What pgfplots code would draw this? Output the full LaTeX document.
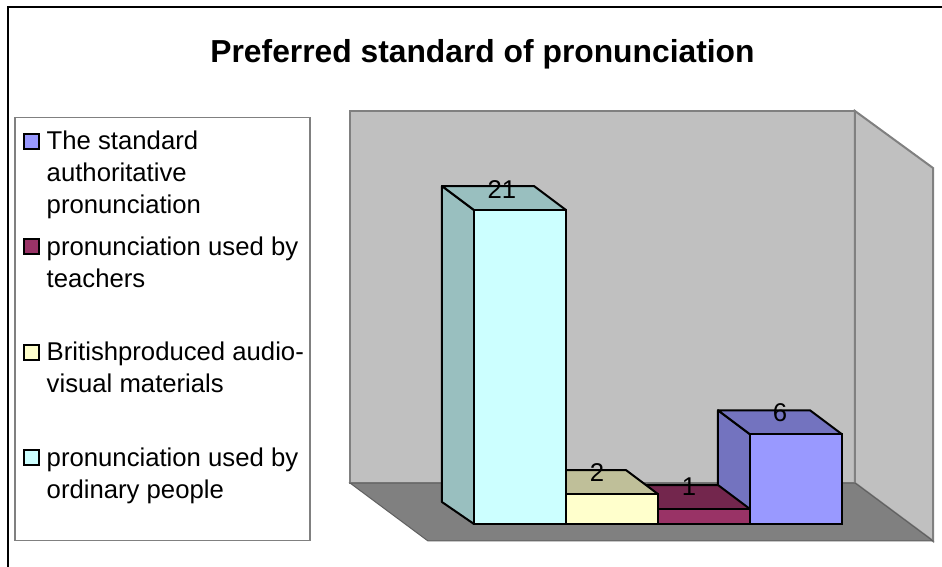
\documentclass[border=0pt]{standalone}
\usepackage{pgfplots}
\pgfplotsset{compat=1.18}
\usepackage{fontspec}
\setmainfont{Liberation Sans}
\definecolor{wall}{HTML}{C0C0C0}
\definecolor{floorc}{HTML}{808080}
\definecolor{edgec}{HTML}{808080}
\definecolor{blueF}{HTML}{9999FF}
\definecolor{blueD}{HTML}{7373BF}
\definecolor{marF}{HTML}{993366}
\definecolor{marD}{HTML}{73264D}
\definecolor{yelF}{HTML}{FFFFCC}
\definecolor{yelD}{HTML}{BFBF99}
\definecolor{cyaF}{HTML}{CCFFFF}
\definecolor{cyaD}{HTML}{99BFBF}
\newcommand{\legtext}[1]{\parbox[t]{254pt}{\fontsize{25.7}{32}\selectfont #1}}
\begin{document}
\begin{tikzpicture}[x=1pt,y=1pt]
\useasboundingbox (0,0) rectangle (942,567);
\fill[white] (0,0) rectangle (942,567);
\begin{axis}[
  at={(0pt,0pt)}, anchor=south west,
  scale only axis, width=942pt, height=567pt,
  xmin=-5.6522, xmax=4.5870, ymin=-2.8763, ymax=35.0502,
  hide axis, clip=false,
  /pgf/number format/assume math mode=true,
  legend cell align=left,
  legend style={
    at={(0.01486,0.79365)}, anchor=north west,
    draw=edgec, line width=1.5pt, fill=white,
    inner xsep=8pt, inner ysep=0.5pt,
    row sep=0pt, column sep=6pt,
    nodes={inner sep=1pt, text height=30.5pt, text depth=73pt, line width=0pt},
  },
  swatch/.style={ybar, bar width=92pt, bar shift=0pt, draw=black, line width=2pt,
    legend image code/.code={\draw[##1,line width=2pt] (0pt,22.25pt) rectangle (15pt,37.25pt);}},
  poly/.style={draw=black, line width=2pt, line join=round, forget plot},
]
% room
\addplot[forget plot, fill=wall, draw=edgec, line width=2pt] coordinates {(-1.848,27.625)(3.641,27.625)(3.641,2.742)(-1.848,2.742)} --cycle;
\addplot[forget plot, fill=wall, draw=edgec, line width=2pt] coordinates {(3.641,27.625)(4.489,23.813)(4.489,-1.137)(3.641,2.742)} --cycle;
\addplot[forget plot, fill=floorc, draw=floorc!75!black, line width=1pt] coordinates {(-1.848,2.742)(3.641,2.742)(4.489,-1.137)(-1.0,-1.137)} --cycle;
% bar 4
\addplot[poly, fill=blueD] coordinates {(2.5,6)(2.5,0)(2.152,1.47)(2.152,7.605)} --cycle;
\addplot[poly, fill=blueD] coordinates {(2.5,6)(3.5,6)(3.152,7.605)(2.152,7.605)} --cycle;
\addplot[swatch, fill=blueF] coordinates {(3,6)};
\addlegendentry{\legtext{The standard\\authoritative\\pronunciation}}
% bar 3
\addplot[poly, fill=marD] coordinates {(1.5,1)(1.5,0)(1.152,1.47)(1.152,2.605)} --cycle;
\addplot[poly, fill=marD] coordinates {(1.5,1)(2.5,1)(2.152,2.605)(1.152,2.605)} --cycle;
\addplot[swatch, fill=marF] coordinates {(2,1)};
\addlegendentry{\legtext{pronunciation used by\\teachers}}
% bar 2
\addplot[poly, fill=yelD] coordinates {(0.5,2)(0.5,0)(0.152,1.47)(0.152,3.605)} --cycle;
\addplot[poly, fill=yelD] coordinates {(0.5,2)(1.5,2)(1.152,3.605)(0.152,3.605)} --cycle;
\addplot[swatch, fill=yelF] coordinates {(1,2)};
\addlegendentry{\legtext{\mbox{Britishproduced audio-}\\visual materials}}
% bar 1
\addplot[poly, fill=cyaD] coordinates {(-0.5,21)(-0.5,0)(-0.848,1.47)(-0.848,22.605)} --cycle;
\addplot[poly, fill=cyaD] coordinates {(-0.5,21)(0.5,21)(0.152,22.605)(-0.848,22.605)} --cycle;
\addplot[swatch, fill=cyaF] coordinates {(0,21)};
\addlegendentry{\legtext{pronunciation used by\\ordinary people}}
% value labels
\addplot[forget plot, draw=none, point meta=explicit,
  nodes near coords={\pgfmathprintnumber{\pgfplotspointmeta}},
  nodes near coords style={anchor=center, inner sep=0pt, font=\fontsize{25.7}{28}\selectfont, text=black}]
  coordinates {(-0.196,22.4)[21] (0.837,3.41)[2] (1.837,2.47)[1] (2.826,7.42)[6]};
\end{axis}
\draw[black, line width=2pt] (8,0) -- (8,560) -- (942,560);
\node[font=\fontsize{31.8}{36}\selectfont\bfseries, text=black] at (482.5,513) {Preferred standard of pronunciation};
\end{tikzpicture}
\end{document}
